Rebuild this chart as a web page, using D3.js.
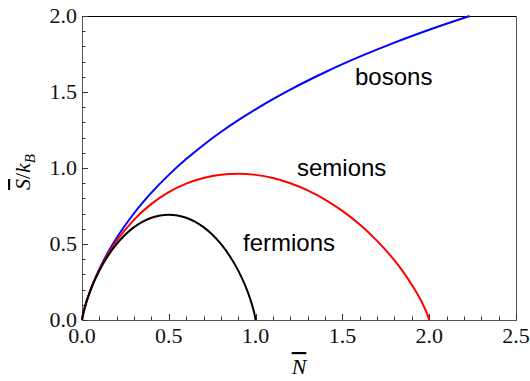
<!DOCTYPE html>
<html>
<head>
<meta charset="utf-8">
<script src="https://cdn.jsdelivr.net/npm/d3@7.9.0/dist/d3.min.js"></script>
<style>
  body { margin: 0; background: #fff; }
  svg { display: block; }
  .serif { font-family: "Liberation Serif", "Times New Roman", "DejaVu Serif", serif; }
  .tick-label { font-size: 22px; fill: #111; }
  .curve-label { font-family: "Liberation Sans", Arial, sans-serif; font-size: 24px; fill: #000; }
</style>
</head>
<body>
<svg id="chart" width="530" height="381"></svg>
<script>
// values (occupation N, entropy S/kB)
const fermionN = [0, 0.005, 0.01, 0.02, 0.05, 0.1, 0.15, 0.2, 0.25, 0.3, 0.35, 0.4, 0.45, 0.5,
                  0.55, 0.6, 0.65, 0.7, 0.75, 0.8, 0.85, 0.9, 0.95, 0.98, 0.99, 0.995, 1];
const fermionS = [0, 0.0315, 0.056, 0.098, 0.1985, 0.325, 0.4227, 0.5004, 0.5623, 0.6109, 0.6474, 0.673, 0.6881, 0.6931,
                  0.6881, 0.673, 0.6474, 0.6109, 0.5623, 0.5004, 0.4227, 0.325, 0.1985, 0.098, 0.056, 0.0315, 0];

const semionN = [0, 0.005, 0.01, 0.02, 0.05, 0.1, 0.15, 0.2, 0.3, 0.4, 0.5, 0.6, 0.7, 0.8, 0.9, 1.0,
                 1.1, 1.2, 1.3, 1.4, 1.5, 1.6, 1.7, 1.8, 1.85, 1.9, 1.95, 1.98, 1.99, 2.0];
const semionS = [0, 0.0315, 0.0561, 0.0982, 0.1998, 0.3302, 0.4344, 0.5216, 0.6601, 0.7638, 0.8413, 0.8972, 0.9348, 0.9561, 0.9624, 0.9548,
                 0.9338, 0.8997, 0.8527, 0.7922, 0.7177, 0.6279, 0.5206, 0.3918, 0.3169, 0.2325, 0.1341, 0.0629, 0.035, 0];

const bosonN = [0, 0.005, 0.01, 0.02, 0.05, 0.1, 0.15, 0.2, 0.3, 0.4, 0.5, 0.6, 0.7, 0.8, 0.9, 1.0,
                1.2, 1.4, 1.6, 1.8, 2.0, 2.233];
const bosonS = [0, 0.0315, 0.0561, 0.0984, 0.201, 0.3351, 0.4453, 0.5407, 0.7023, 0.8376, 0.9548, 1.0585, 1.1518, 1.2365, 1.3144, 1.3863,
                1.5158, 1.63, 1.7323, 1.8249, 1.9095, 2.0];

const xTicks = [0, 0.5, 1, 1.5, 2, 2.5];
const yTicks = [0, 0.5, 1, 1.5, 2];

const svg = d3.select('#chart');
const plotLeft = 82, plotRight = 516, plotTop = 16, plotBottom = 320;

const x = d3.scaleLinear().domain([0, 2.5]).range([plotLeft, plotRight]);
const y = d3.scaleLinear().domain([0, 2]).range([plotBottom, plotTop]);

// frame
svg.append('rect')
  .attr('x', plotLeft + 0.5).attr('y', plotTop + 0.5)
  .attr('width', plotRight - plotLeft).attr('height', plotBottom - plotTop)
  .attr('fill', 'none').attr('stroke', '#555').attr('stroke-width', 1);
svg.append('line')
  .attr('x1', plotLeft).attr('x2', plotRight).attr('y1', plotTop + 0.5).attr('y2', plotTop + 0.5)
  .attr('stroke', '#000');

// ticks, pointing inward
const minorX = d3.range(0, 2.51, 0.1);
const minorY = d3.range(0, 2.01, 0.1);
svg.append('g').selectAll('line')
  .data(minorX)
  .join('line')
  .attr('x1', d => Math.round(x(d)) + 0.5).attr('x2', d => Math.round(x(d)) + 0.5)
  .attr('y1', plotBottom).attr('y2', (d, i) => plotBottom - (i % 5 === 0 ? 6 : 3.5))
  .attr('stroke', '#333');
svg.append('g').selectAll('line')
  .data(minorY)
  .join('line')
  .attr('y1', d => Math.round(y(d)) + 0.5).attr('y2', d => Math.round(y(d)) + 0.5)
  .attr('x1', plotLeft).attr('x2', (d, i) => plotLeft + (i % 5 === 0 ? 6 : 3.5))
  .attr('stroke', '#333');

// tick labels
svg.append('g').selectAll('text')
  .data(xTicks)
  .join('text')
  .attr('class', 'serif tick-label')
  .attr('x', d => x(d)).attr('y', 343)
  .attr('text-anchor', 'middle')
  .text(d => d3.format('.1f')(d));
svg.append('g').selectAll('text')
  .data(yTicks)
  .join('text')
  .attr('class', 'serif tick-label')
  .attr('x', 77).attr('y', d => y(d))
  .attr('dy', '0.3em')
  .attr('text-anchor', 'end')
  .text(d => d3.format('.1f')(d));

// axis titles
const xt = svg.append('text')
  .attr('class', 'serif')
  .attr('x', 299).attr('y', 374)
  .attr('text-anchor', 'middle')
  .style('font-size', '22px').style('font-style', 'italic');
xt.append('tspan').style('text-decoration', 'overline').text('N');

const yt = svg.append('text')
  .attr('class', 'serif')
  .attr('transform', 'translate(30,172) rotate(-90)')
  .attr('text-anchor', 'middle')
  .style('font-size', '22px').style('font-style', 'italic');
yt.append('tspan').style('text-decoration', 'overline').text('S');
yt.append('tspan').style('font-style', 'normal').text('/');
yt.append('tspan').text('k');
yt.append('tspan').attr('dy', 5).style('font-size', '15px').text('B');

// curves
const series = [
  { n: bosonN, s: bosonS, color: '#0000ff' },
  { n: semionN, s: semionS, color: '#ff0000' },
  { n: fermionN, s: fermionS, color: '#000000' }
];
const line = d3.line()
  .x(d => x(d[0])).y(d => y(d[1]))
  .curve(d3.curveMonotoneX);

svg.append('g').selectAll('path')
  .data(series)
  .join('path')
  .attr('d', d => line(d3.zip(d.n, d.s)))
  .attr('fill', 'none')
  .attr('stroke', d => d.color)
  .attr('stroke-width', 2);

// curve labels
svg.append('text').attr('class', 'curve-label').attr('x', 355).attr('y', 85).text('bosons');
svg.append('text').attr('class', 'curve-label').attr('x', 297).attr('y', 176).text('semions');
svg.append('text').attr('class', 'curve-label').attr('x', 243).attr('y', 251).text('fermions');
</script>
</body>
</html>
